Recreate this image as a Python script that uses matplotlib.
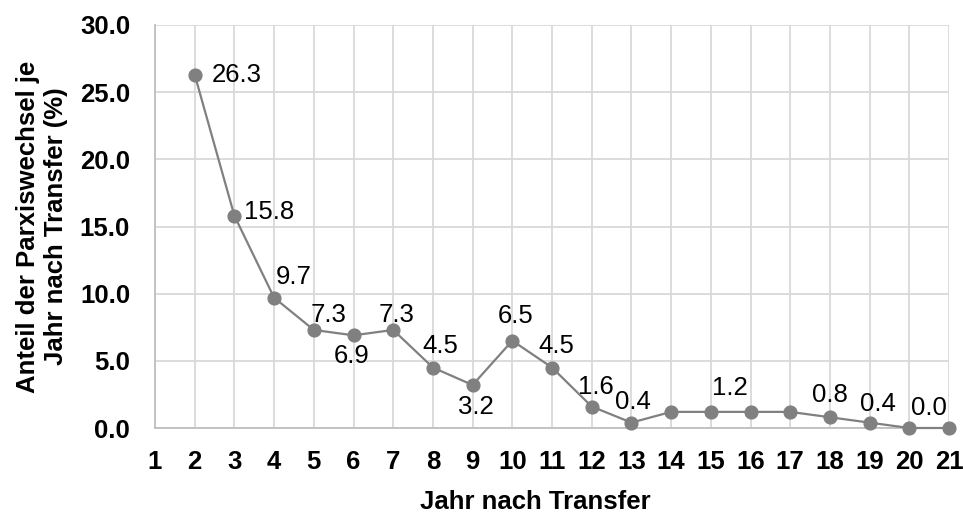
import matplotlib
matplotlib.use("Agg")
import matplotlib.pyplot as plt

plt.rcParams['font.family'] = ['Liberation Sans', 'DejaVu Sans']

years = list(range(1, 22))
year_points = [2, 3, 4, 5, 6, 7, 8, 9, 10, 11, 12, 13, 14, 15, 16, 17, 18, 19, 20, 21]
share = [26.3, 15.8, 9.7, 7.3, 6.9, 7.3, 4.5, 3.2, 6.5, 4.5, 1.6, 0.4,
         1.2, 1.2, 1.2, 1.2, 0.8, 0.4, 0.0, 0.0]
y_ticks = [0, 5, 10, 15, 20, 25, 30]

# label offsets in pixels from the marker centre to the text anchor
# (dx right, dy up to baseline); None = no label
label_offsets = [(17, -7), (10, -3), (20, 14), (15, 8), (-2, -28), (3, 8),
                 (7, 15), (3, -29), (3, 18), (4, 15), (4, 13), (2, 14),
                 None, (19, 17), None, None, (0, 15), (8, 12), (20, 13), None]
label_align = ['left', 'left'] + ['center'] * 18

FS = 18.5
PX = 72 / 100  # pixel -> point at dpi 100

fig = plt.figure(figsize=(9.63, 5.14), dpi=100)
ax = fig.add_axes([155 / 963, 1 - 428 / 514, (949 - 155) / 963, (428 - 25) / 514])

grey = '#808080'
ax.plot(year_points, share, color=grey, lw=1.6, marker='o', ms=9.2,
        markerfacecolor=grey, markeredgecolor=grey, zorder=3, clip_on=False)

for x, v, off, ha in zip(year_points, share, label_offsets, label_align):
    if off is None:
        continue
    dx, dy = off
    ax.annotate(f"{v:.1f}", (x, v), xytext=(dx * PX, dy * PX),
                textcoords='offset points', ha=ha, va='baseline',
                fontsize=FS, color='#000000', zorder=4)

ax.set_xlim(1, 21)
ax.set_ylim(0, 30)
ax.set_xticks(years)
ax.set_xticklabels([str(y) for y in years], fontsize=FS, fontweight='bold')
ax.set_yticks(y_ticks)
ax.set_yticklabels([f"{t:.1f}" for t in y_ticks], fontsize=FS, fontweight='bold')
ax.tick_params(axis='both', length=0)
ax.tick_params(axis='y', pad=18)
ax.tick_params(axis='x', pad=16)

ax.grid(True, color='#d9d9d9', lw=1.3, zorder=0)
ax.set_axisbelow(True)
for side in ['top', 'right']:
    ax.spines[side].set_visible(False)
for side in ['left', 'bottom']:
    ax.spines[side].set_color('#bfbfbf')
    ax.spines[side].set_linewidth(1.3)

ax.set_xlabel("Jahr nach Transfer", fontsize=FS, fontweight='bold')
ax.xaxis.set_label_coords(0.4796, -0.154)
ax.set_ylabel("Anteil der Parxiswechsel je\nJahr nach Transfer (%)", fontsize=FS,
              fontweight='bold', linespacing=1.25)
ax.yaxis.set_label_coords(-0.109, 0.5)

fig.savefig("out.png", dpi=100)
